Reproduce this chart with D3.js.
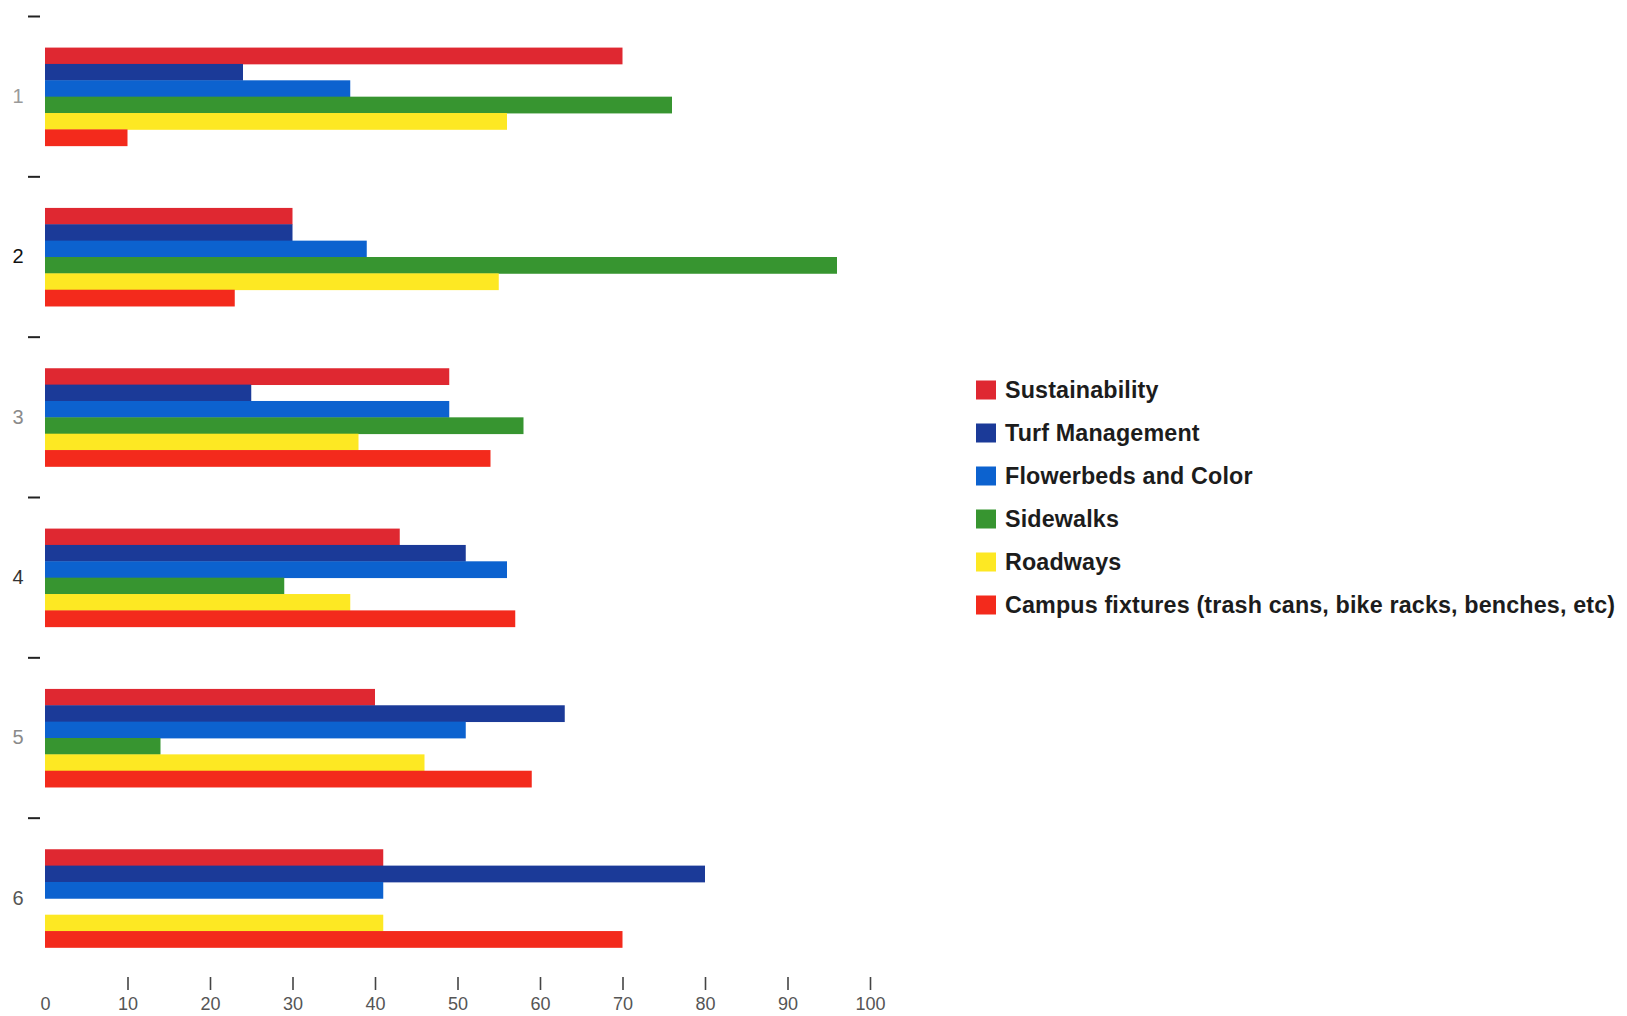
<!DOCTYPE html>
<html>
<head>
<meta charset="utf-8">
<script src="https://cdn.jsdelivr.net/npm/d3@7"></script>
<style>
  html, body { margin: 0; padding: 0; background: #ffffff; }
  svg { display: block; }
</style>
</head>
<body>
<div id="chart"></div>
<script>
// ---- data ----
const groups = ["1", "2", "3", "4", "5", "6"];
const seriesNames = [
  "Sustainability",
  "Turf Management",
  "Flowerbeds and Color",
  "Sidewalks",
  "Roadways",
  "Campus fixtures (trash cans, bike racks, benches, etc)"
];
const sustainability = [70, 30, 49, 43, 40, 41];
const turfManagement = [24, 30, 25, 51, 63, 80];
const flowerbeds     = [37, 39, 49, 56, 51, 41];
const sidewalks      = [76, 96, 58, 29, 14, null];
const roadways       = [56, 55, 38, 37, 46, 41];
const campusFixtures = [10, 23, 54, 57, 59, 70];
const xTicks = [0, 10, 20, 30, 40, 50, 60, 70, 80, 90, 100];

const seriesValues = [sustainability, turfManagement, flowerbeds, sidewalks, roadways, campusFixtures];

// ---- styles ----
const colors = ["#df2831", "#1b3a98", "#0c62cf", "#379530", "#fde823", "#f32a1c"];
const groupLabelColors = ["#9a9a9a", "#111111", "#8a8a8a", "#333333", "#8a8a8a", "#555555"];

const W = 1627, H = 1016;
const svg = d3.select("#chart").append("svg")
  .attr("width", W).attr("height", H)
  .style("font-family", "'Liberation Sans', Arial, Helvetica, sans-serif");

const x = d3.scaleLinear().domain([0, 100]).range([45, 870]);
const y0 = d3.scaleBand().domain(groups).range([16.5, 978.5]).paddingInner(0).paddingOuter(0);
const y1 = d3.scaleBand().domain(seriesNames).range([0, y0.bandwidth()]).paddingOuter(1.9).paddingInner(0);

// bars
const gGroups = svg.append("g").selectAll("g")
  .data(groups)
  .join("g")
  .attr("transform", d => `translate(0,${y0(d)})`);

gGroups.selectAll("rect")
  .data((g, gi) => seriesNames.map((s, si) => ({ s, si, v: seriesValues[si][gi] })).filter(d => d.v != null && d.v > 0))
  .join("rect")
  .attr("x", x(0))
  .attr("y", d => y1(d.s))
  .attr("width", d => x(d.v) - x(0))
  .attr("height", y1.bandwidth() + 0.4)
  .attr("fill", d => colors[d.si]);

// y axis: boundary dashes + group labels
const yAxis = svg.append("g");
yAxis.selectAll("line")
  .data(groups)
  .join("line")
  .attr("x1", 28).attr("x2", 40)
  .attr("y1", d => y0(d)).attr("y2", d => y0(d))
  .attr("stroke", "#222").attr("stroke-width", 2);

yAxis.selectAll("text")
  .data(groups)
  .join("text")
  .attr("x", 18)
  .attr("y", d => y0(d) + y0.bandwidth() / 2 + 1)
  .attr("text-anchor", "middle")
  .attr("dominant-baseline", "middle")
  .attr("font-size", 20)
  .attr("fill", (d, i) => groupLabelColors[i])
  .text(d => d);

// x axis
const xAxisG = svg.append("g").attr("transform", "translate(0,977)");
const xAxis = d3.axisBottom(x).tickValues(xTicks).tickSize(13).tickPadding(7).tickFormat(d3.format("d"));
xAxisG.call(xAxis);
xAxisG.select(".domain").remove();
xAxisG.selectAll(".tick line").attr("stroke", "#444").attr("stroke-width", 1.6)
  .filter(d => d === 0).remove();
xAxisG.selectAll(".tick text")
  .attr("font-size", 18)
  .attr("fill", "#555")
  .attr("font-family", "'Liberation Sans', Arial, sans-serif");

// legend
const legendY = d3.scalePoint().domain(seriesNames).range([390, 605]);
const legend = svg.append("g");
const items = legend.selectAll("g")
  .data(seriesNames)
  .join("g")
  .attr("transform", d => `translate(976,${legendY(d)})`);
items.append("rect")
  .attr("x", 0).attr("y", -9.5)
  .attr("width", 20).attr("height", 19)
  .attr("fill", (d, i) => colors[i]);
items.append("text")
  .attr("x", 29).attr("y", 7.5)
  .attr("font-size", 23.3)
  .attr("font-weight", "bold")
  .attr("letter-spacing", 0.15)
  .attr("fill", "#1c1c1c")
  .text(d => d);
</script>
</body>
</html>
